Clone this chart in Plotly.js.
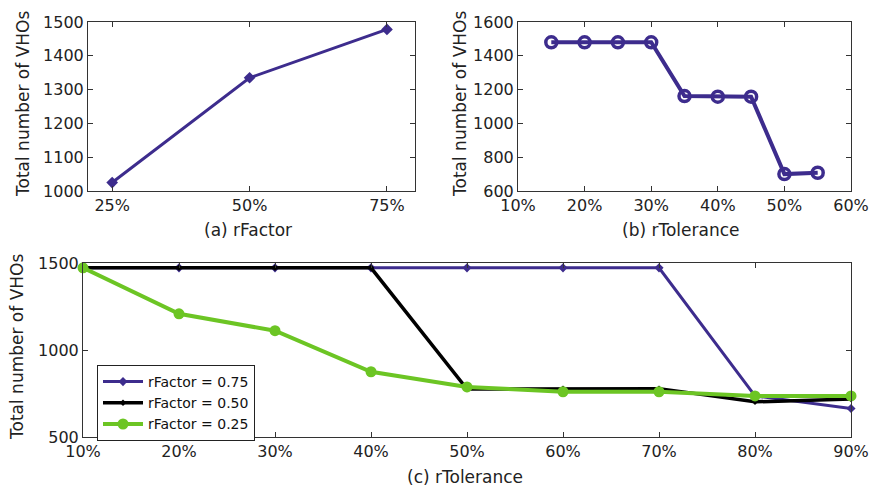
<!DOCTYPE html>
<html>
<head>
<meta charset="utf-8">
<script src="https://cdn.plot.ly/plotly-3.0.1.min.js"></script>
<style>html,body{margin:0;padding:0;background:#fff;}#chart{width:873px;height:488px;}</style>
</head>
<body>
<div id="chart"></div>
<script>
// (a) rFactor
const rFactorPct = [25, 50, 75];
const rFactorLabels = ['25%', '50%', '75%'];
const vhosA = [1025, 1335, 1478];
// (b) rTolerance
const rTolB = [15, 20, 25, 30, 35, 40, 45, 50, 55];
const vhosB = [1480, 1480, 1480, 1480, 1162, 1158, 1158, 700, 708];
// (c) rTolerance for three rFactor values
const rTolC = [10, 20, 30, 40, 50, 60, 70, 80, 90];
const vhos075 = [1472, 1472, 1472, 1472, 1472, 1472, 1472, 736, 664];
const vhos050 = [1472, 1472, 1472, 1472, 776, 778, 778, 702, 718];
const vhos025 = [1472, 1208, 1111, 875, 788, 760, 760, 736, 736];
const seriesNames = ['rFactor = 0.75', 'rFactor = 0.50', 'rFactor = 0.25'];
const yTitle = 'Total number of VHOs';
const xTitles = ['(a) rFactor', '(b) rTolerance', '(c) rTolerance'];

const purple = '#3d2c8d';
const green = '#6cc524';
const FONT = 'DejaVu Sans, Verdana, sans-serif';

const traces = [
  {x: rFactorPct, y: vhosA, xaxis: 'x', yaxis: 'y', mode: 'lines+markers', showlegend: false,
   line: {color: purple, width: 3}, marker: {symbol: 'diamond', size: 9, color: purple}, cliponaxis: false},
  {x: rTolB, y: vhosB, xaxis: 'x2', yaxis: 'y2', mode: 'lines+markers', showlegend: false,
   line: {color: purple, width: 4}, marker: {symbol: 'circle-open', size: 11, color: purple, line: {width: 3.5, color: purple}}, cliponaxis: false},
  {x: rTolC, y: vhos075, xaxis: 'x3', yaxis: 'y3', mode: 'lines+markers', name: seriesNames[0],
   line: {color: purple, width: 3}, marker: {symbol: 'diamond', size: 7, color: purple}, cliponaxis: false},
  {x: rTolC, y: vhos050, xaxis: 'x3', yaxis: 'y3', mode: 'lines+markers', name: seriesNames[1],
   line: {color: '#000000', width: 3.5}, marker: {symbol: 'diamond', size: 5, color: '#000000'}, cliponaxis: false},
  {x: rTolC, y: vhos025, xaxis: 'x3', yaxis: 'y3', mode: 'lines+markers', name: seriesNames[2],
   line: {color: green, width: 4}, marker: {symbol: 'circle', size: 11, color: green}, cliponaxis: false}
];

function ax(extra) {
  return Object.assign({
    showline: true, linecolor: '#333', linewidth: 1, mirror: 'ticks',
    ticks: 'inside', ticklen: 5, tickcolor: '#333', tickwidth: 1,
    showgrid: false, zeroline: false, fixedrange: true,
    tickfont: {family: FONT, size: 16, color: '#222'}
  }, extra);
}

const W = 873, H = 488;
const px = v => v / W;
const py = v => 1 - v / H;

function ann(text, x, y, angle) {
  return {text: text, x: px(x), y: py(y), xref: 'paper', yref: 'paper', showarrow: false,
          xanchor: 'center', yanchor: 'middle', textangle: angle || 0,
          font: {size: 17, family: FONT, color: '#222'}};
}

const layout = {
  width: W, height: H,
  margin: {l: 0, r: 0, t: 0, b: 0},
  paper_bgcolor: '#fff', plot_bgcolor: '#fff',
  font: {family: FONT, color: '#222'},
  xaxis: ax({domain: [px(88), px(415)], range: [20.6, 80.1], tickmode: 'array', tickvals: rFactorPct, ticktext: rFactorLabels, anchor: 'y'}),
  yaxis: ax({domain: [py(191), py(22)], range: [1000, 1500], dtick: 100, anchor: 'x'}),
  xaxis2: ax({domain: [px(518), px(851)], range: [10, 60], dtick: 10, ticksuffix: '%', anchor: 'y2'}),
  yaxis2: ax({domain: [py(191), py(22)], range: [600, 1600], dtick: 200, anchor: 'x2'}),
  xaxis3: ax({domain: [px(83), px(851)], range: [10, 90], dtick: 10, ticksuffix: '%', anchor: 'y3'}),
  yaxis3: ax({domain: [py(437), py(263)], range: [500, 1500], dtick: 500, anchor: 'x3'}),
  showlegend: true,
  legend: {x: px(97), y: py(365), xanchor: 'left', yanchor: 'top', bgcolor: '#fff',
           bordercolor: '#222', borderwidth: 1, font: {family: FONT, size: 14, color: '#111'},
           tracegroupgap: 0, itemwidth: 40},
  annotations: [
    ann(xTitles[0], 248, 230),
    ann(xTitles[1], 681, 230),
    ann(xTitles[2], 465, 477),
    ann(yTitle, 23, 104, -90),
    ann(yTitle, 460, 104, -90),
    ann(yTitle, 17, 347, -90)
  ]
};

Plotly.newPlot('chart', traces, layout, {displayModeBar: false, staticPlot: true});
</script>
</body>
</html>
